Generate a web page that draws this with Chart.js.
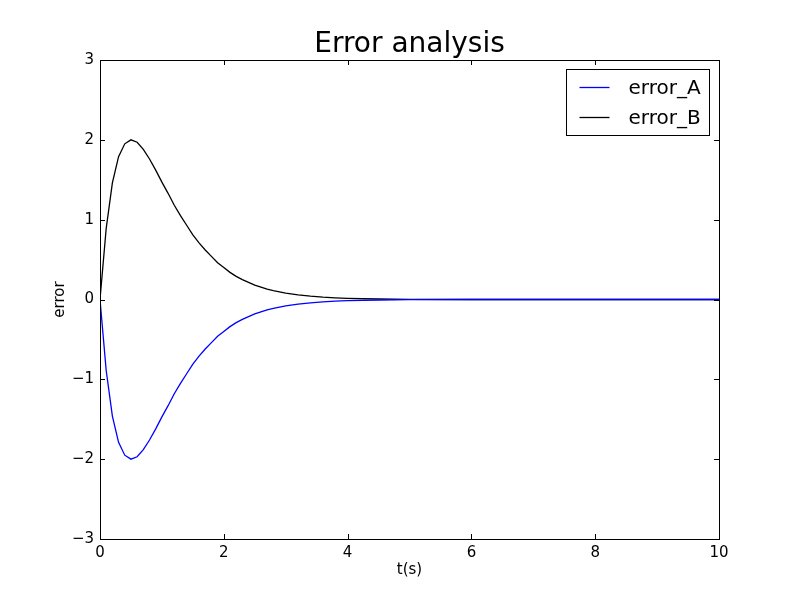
<!DOCTYPE html>
<html>
<head>
<meta charset="utf-8">
<script src="https://cdn.jsdelivr.net/npm/chart.js@4.4.1/dist/chart.umd.min.js"></script>
<style>
  html, body { margin: 0; padding: 0; background: #fff; }
  #wrap { width: 800px; height: 600px; }
</style>
</head>
<body>
<div id="wrap"><canvas id="errorChart" width="800" height="600"></canvas></div>
<script>
// values
const timeValues = [0, 0.1, 0.2, 0.3, 0.4, 0.5, 0.6, 0.7, 0.8, 0.9, 1.0,
    1.1, 1.2, 1.3, 1.4, 1.5, 1.6, 1.7, 1.8, 1.9, 2.0,
    2.1, 2.2, 2.3, 2.4, 2.5, 2.6, 2.7, 2.8, 2.9, 3.0,
    3.2, 3.4, 3.6, 3.8, 4.0, 4.5, 5.0, 6.0, 8.0, 10.0];
const errorA = [0, -0.89, -1.46, -1.79, -1.95, -2.00, -1.97, -1.88, -1.76, -1.62, -1.47,
    -1.33, -1.18, -1.05, -0.93, -0.81, -0.71, -0.62, -0.54, -0.46, -0.40,
    -0.34, -0.29, -0.25, -0.215, -0.18, -0.155, -0.13, -0.11, -0.095, -0.08,
    -0.058, -0.041, -0.029, -0.021, -0.015, -0.006, -0.002, 0, 0, 0];
const errorB = [0, 0.89, 1.46, 1.79, 1.95, 2.00, 1.97, 1.88, 1.76, 1.62, 1.47,
    1.33, 1.18, 1.05, 0.93, 0.81, 0.71, 0.62, 0.54, 0.46, 0.40,
    0.34, 0.29, 0.25, 0.215, 0.18, 0.155, 0.13, 0.11, 0.095, 0.08,
    0.058, 0.041, 0.029, 0.021, 0.015, 0.006, 0.002, 0, 0, 0];
const seriesNames = ['error_A', 'error_B'];
const seriesColors = ['#0000ff', '#000000'];
const xTicks = [0, 2, 4, 6, 8, 10];
const yTicks = [-3, -2, -1, 0, 1, 2, 3];
const chartTitle = 'Error analysis';

const FONT = 'DejaVu Sans';

function toPoints(ys) {
    return timeValues.map((t, i) => ({ x: t, y: ys[i] }));
}

// matplotlib-style frame, inward ticks on all sides, title and legend
const mplDecor = {
    id: 'mplDecor',
    afterDatasetsDraw(chart) {
        const ctx = chart.ctx;
        const a = chart.chartArea;
        const xs = chart.scales.x;
        const ys = chart.scales.y;
        const tl = 5;
        ctx.save();
        ctx.strokeStyle = '#000';
        ctx.lineWidth = 1;
        ctx.beginPath();
        xTicks.forEach(v => {
            const px = Math.round(xs.getPixelForValue(v)) + 0.5;
            ctx.moveTo(px, a.bottom); ctx.lineTo(px, a.bottom - tl);
            ctx.moveTo(px, a.top); ctx.lineTo(px, a.top + tl);
        });
        yTicks.forEach(v => {
            const py = Math.round(ys.getPixelForValue(v)) + 0.5;
            ctx.moveTo(a.left, py); ctx.lineTo(a.left + tl, py);
            ctx.moveTo(a.right, py); ctx.lineTo(a.right - tl, py);
        });
        ctx.stroke();
        ctx.strokeRect(Math.round(a.left) + 0.5, Math.round(a.top) + 0.5,
            Math.round(a.right - a.left), Math.round(a.bottom - a.top));

        // title
        ctx.fillStyle = '#000';
        ctx.font = '28px "' + FONT + '"';
        ctx.textAlign = 'center';
        ctx.textBaseline = 'alphabetic';
        ctx.fillText(chartTitle, (a.left + a.right) / 2, a.top - 8);

        // legend box in upper right
        const bw = 143, bh = 66;
        const bx = Math.round(a.right - 10 - bw) + 0.5;
        const by = Math.round(a.top + 9) + 0.5;
        ctx.fillStyle = '#fff';
        ctx.fillRect(bx, by, bw, bh);
        ctx.strokeRect(bx, by, bw, bh);
        ctx.font = '20px "' + FONT + '"';
        ctx.textAlign = 'left';
        ctx.textBaseline = 'middle';
        chart.data.datasets.forEach((ds, i) => {
            const ly = Math.round(by + 17 + i * 30) + 0.5;
            ctx.strokeStyle = ds.borderColor;
            ctx.lineWidth = 1.3;
            ctx.beginPath();
            ctx.moveTo(bx + 13, ly); ctx.lineTo(bx + 43, ly);
            ctx.stroke();
            ctx.fillStyle = '#000';
            ctx.fillText(ds.label, bx + 62, ly + 1);
        });
        ctx.restore();
    }
};

const minusFmt = v => String(v).replace('-', '\u2212');

new Chart(document.getElementById('errorChart').getContext('2d'), {
    type: 'line',
    data: {
        datasets: [errorA, errorB].map((ys, i) => ({
            label: seriesNames[i],
            data: toPoints(ys),
            borderColor: seriesColors[i],
            backgroundColor: seriesColors[i],
            borderWidth: 1.3,
            pointRadius: 0,
            tension: 0,
            fill: false
        }))
    },
    options: {
        responsive: false,
        animation: false,
        layout: { padding: { top: 60, right: 81, bottom: 0, left: 0 } },
        plugins: {
            legend: { display: false },
            title: { display: false },
            tooltip: { enabled: false }
        },
        scales: {
            x: {
                type: 'linear',
                min: 0,
                max: 10,
                afterFit(scale) { scale.height = 61; },
                afterBuildTicks(scale) { scale.ticks = xTicks.map(v => ({ value: v })); },
                grid: { display: false, drawTicks: false },
                border: { display: false },
                ticks: {
                    padding: 5,
                    color: '#000',
                    font: { family: FONT, size: 15 },
                    maxRotation: 0,
                    callback: minusFmt
                },
                title: {
                    display: true,
                    text: 't(s)',
                    color: '#000',
                    font: { family: FONT, size: 15 },
                    padding: { bottom: 21 }
                }
            },
            y: {
                type: 'linear',
                min: -3,
                max: 3,
                afterFit(scale) { scale.width = 100; },
                afterBuildTicks(scale) { scale.ticks = yTicks.map(v => ({ value: v })); },
                grid: { display: false, drawTicks: false },
                border: { display: false },
                ticks: {
                    padding: 6,
                    color: '#000',
                    font: { family: FONT, size: 15 },
                    callback: minusFmt
                },
                title: {
                    display: true,
                    text: 'error',
                    color: '#000',
                    font: { family: FONT, size: 15 },
                    padding: { top: 51 }
                }
            }
        }
    },
    plugins: [mplDecor]
});
</script>
</body>
</html>
